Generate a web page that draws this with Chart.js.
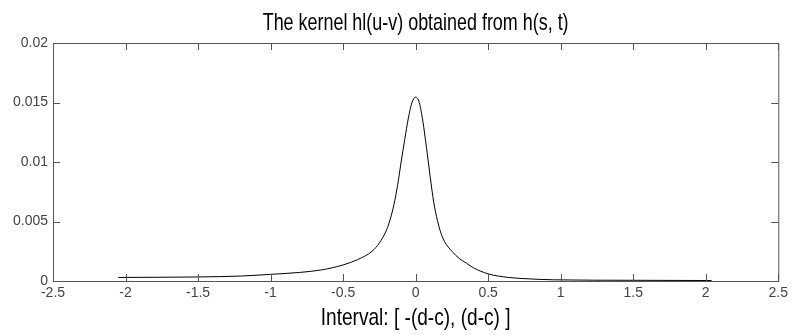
<!DOCTYPE html>
<html>
<head>
<meta charset="utf-8">
<script src="https://cdn.jsdelivr.net/npm/chart.js@4.4.1/dist/chart.umd.min.js"></script>
<style>
    html, body { margin: 0; padding: 0; background: #fff; }
    #wrap { width: 792px; height: 335px; }
</style>
</head>
<body>
<div id="wrap"><canvas id="kernel"></canvas></div>
<script>
// values
const xs = [-2.05, -1.5, -1.2, -1.0, -0.8, -0.65, -0.5, -0.4, -0.3, -0.25, -0.2, -0.175, -0.15, -0.125, -0.1, -0.075, -0.05, -0.025,
    0, 0.025, 0.05, 0.075, 0.1, 0.125, 0.15, 0.175, 0.2, 0.25, 0.3, 0.35, 0.4, 0.5, 0.64, 0.78, 0.95, 1.5, 2.04];
const hl = [0.00030, 0.00034, 0.00042, 0.00056, 0.00072, 0.00093, 0.00135, 0.0018, 0.0025, 0.0032, 0.0043, 0.0052, 0.0064, 0.0080, 0.0100, 0.0119, 0.0137, 0.0150,
    0.01545, 0.0150, 0.0134, 0.0112, 0.0088, 0.0066, 0.0051, 0.0040, 0.0033, 0.0025, 0.0019, 0.0015, 0.0011, 0.0006, 0.00030, 0.00018, 0.0001, 0.00006, 0.00004];
const xTicks = [-2.5, -2, -1.5, -1, -0.5, 0, 0.5, 1, 1.5, 2, 2.5];
const yTicks = [0, 0.005, 0.01, 0.015, 0.02];
const yLabels = ['0', '0.005', '0.01', '0.015', '0.02'];
const titleText = 'The kernel hl(u-v) obtained from h(s, t)';
const xLabelText = 'Interval: [ -(d-c), (d-c) ]';

const tickFont = { family: "'Liberation Sans', Arial, sans-serif", size: 14 };
const axisColor = '#555';

// matlab style box with inward ticks, plus the narrow title texts
const boxTicks = {
    id: 'boxTicks',
    afterDraw(chart) {
        const { ctx, chartArea: a, scales } = chart;
        const len = 7;
        ctx.save();
        ctx.strokeStyle = axisColor;
        ctx.lineWidth = 1;
        ctx.beginPath();
        ctx.moveTo(a.left, a.top + 0.5);
        ctx.lineTo(a.right + 0.5, a.top + 0.5);
        ctx.lineTo(a.right + 0.5, a.bottom);
        xTicks.forEach(v => {
            const px = Math.round(scales.x.getPixelForValue(v)) + 0.5;
            ctx.moveTo(px, a.bottom);
            ctx.lineTo(px, a.bottom - len);
            ctx.moveTo(px, a.top);
            ctx.lineTo(px, a.top + len);
        });
        yTicks.forEach(v => {
            const py = Math.round(scales.y.getPixelForValue(v)) + 0.5;
            ctx.moveTo(a.left, py);
            ctx.lineTo(a.left + len, py);
            ctx.moveTo(a.right, py);
            ctx.lineTo(a.right - len, py);
        });
        ctx.stroke();

        // condensed text like the matlab figure font
        const cx = scales.x.getPixelForValue(0);
        ctx.fillStyle = '#000';
        ctx.font = "24px 'Liberation Sans', Arial, sans-serif";
        ctx.textAlign = 'center';
        ctx.textBaseline = 'alphabetic';
        [[titleText, a.top - 13.5, 0.747], [xLabelText, chart.height - 10, 0.795]].forEach(([t, y, squeeze]) => {
            ctx.save();
            ctx.translate(cx, y);
            ctx.scale(squeeze, 1);
            ctx.fillText(t, 0, 0);
            ctx.restore();
        });
        ctx.restore();
    }
};

new Chart(document.getElementById('kernel'), {
    type: 'line',
    data: {
        datasets: [{
            data: xs.map((x, i) => ({ x: x, y: hl[i] })),
            borderColor: '#000',
            borderWidth: 1,
            pointRadius: 0,
            fill: false,
            cubicInterpolationMode: 'monotone'
        }]
    },
    options: {
        responsive: true,
        maintainAspectRatio: false,
        animation: false,
        layout: { padding: { left: 0, right: 11, top: 43, bottom: 0 } },
        plugins: {
            legend: { display: false },
            tooltip: { enabled: false },
            title: { display: false }
        },
        scales: {
            x: {
                type: 'linear',
                min: -2.5,
                max: 2.5,
                afterBuildTicks: s => { s.ticks = xTicks.map(v => ({ value: v })); },
                afterFit: s => { s.height = 54; },
                grid: { display: false, drawTicks: false },
                border: { display: true, color: axisColor },
                ticks: {
                    color: '#444',
                    font: tickFont,
                    padding: 4,
                    maxRotation: 0,
                    callback: v => String(v)
                }
            },
            y: {
                type: 'linear',
                min: 0,
                max: 0.02,
                afterBuildTicks: s => { s.ticks = yTicks.map(v => ({ value: v })); },
                afterFit: s => { s.width = 53; },
                grid: { display: false, drawTicks: false },
                border: { display: true, color: axisColor },
                ticks: {
                    color: '#444',
                    font: tickFont,
                    padding: 5,
                    callback: (v, i) => yLabels[i]
                }
            }
        }
    },
    plugins: [boxTicks]
});
</script>
</body>
</html>
